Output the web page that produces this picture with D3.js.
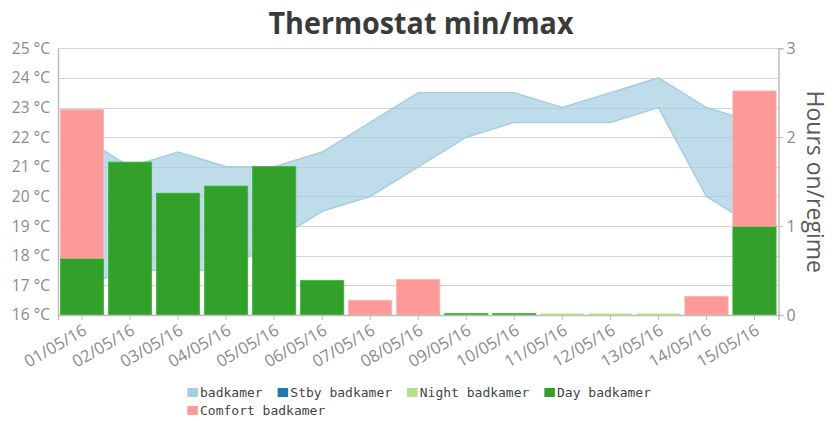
<!DOCTYPE html>
<html>
<head>
<meta charset="utf-8">
<script src="https://cdn.jsdelivr.net/npm/d3@7"></script>
<style>
  html, body { margin: 0; padding: 0; background: #fff; }
  svg { display: block; }
</style>
</head>
<body>
<svg id="chart" width="835" height="421"></svg>
<script>
// ---- data ----
const categories = ["01/05/16","02/05/16","03/05/16","04/05/16","05/05/16","06/05/16","07/05/16","08/05/16","09/05/16","10/05/16","11/05/16","12/05/16","13/05/16","14/05/16","15/05/16"];
const tempMin = [17.0,17.5,17.5,17.5,18.5,19.5,20.0,21.0,22.0,22.5,22.5,22.5,23.0,20.0,19.0];
const tempMax = [22.0,21.0,21.5,21.0,21.0,21.5,22.5,23.5,23.5,23.5,23.0,23.5,24.0,23.0,22.5];
const stbyHours    = [0,0,0,0,0,0,0,0,0,0,0,0,0,0,0];
const nightHours   = [0,0,0,0,0,0,0,0,0,0,0.017,0.017,0.017,0,0];
const dayHours     = [0.64,1.72,1.37,1.45,1.67,0.39,0,0,0.017,0.017,0,0,0,0,1.0];
const comfortHours = [1.67,0,0,0,0,0,0.165,0.40,0,0,0,0,0,0.21,1.52];
const tempTicks = [16,17,18,19,20,21,22,23,24,25];
const hourTicks = [0,1,2,3];
const seriesNames = ["badkamer","Stby badkamer","Night badkamer","Day badkamer","Comfort badkamer"];
const seriesColors = ["#a6cee3","#1f78b4","#b2df8a","#33a02c","#fb9a99"];
const titleText = "Thermostat min/max";
const rightAxisTitle = "Hours on/regime";

// ---- layout ----
const svg = d3.select("#chart");
const L = 58, R = 778.5, T = 48.3, B = 315;
const labelFont = "'Open Sans', sans-serif";

const x = d3.scaleBand().domain(categories).range([L, R]).paddingInner(0.1).paddingOuter(0.05);
const yT = d3.scaleLinear().domain([16, 25]).range([B, T]);
const yH = d3.scaleLinear().domain([0, 3]).range([B, T]);
const cx = c => x(c) + x.bandwidth() / 2;

// title
svg.append("text")
  .attr("x", 421).attr("y", 33.5)
  .attr("text-anchor", "middle")
  .attr("font-family", labelFont).attr("font-weight", 700)
  .attr("font-size", 30).attr("fill", "#3a3a3a")
  .attr("textLength", 305).attr("lengthAdjust", "spacingAndGlyphs")
  .text(titleText);

// gridlines
svg.append("g").selectAll("line").data(tempTicks).join("line")
  .attr("x1", L).attr("x2", R)
  .attr("y1", d => Math.round(yT(d)) + 0.5).attr("y2", d => Math.round(yT(d)) + 0.5)
  .attr("stroke", "#d4d4d4").attr("stroke-width", 1);

// area
const idx = d3.range(categories.length);
const area = d3.area()
  .x(i => cx(categories[i]))
  .y0(i => yT(tempMin[i]))
  .y1(i => yT(tempMax[i]));
svg.append("path").datum(idx)
  .attr("d", area)
  .attr("fill", seriesColors[0]).attr("fill-opacity", 0.72)
  .attr("stroke", seriesColors[0]).attr("stroke-width", 1.5);

// stacked bars
const stackData = idx.map(i => ({
  cat: categories[i], stby: stbyHours[i], night: nightHours[i], day: dayHours[i], comfort: comfortHours[i]
}));
const keys = ["stby","night","day","comfort"];
const stacked = d3.stack().keys(keys)(stackData);
svg.append("g").selectAll("g").data(stacked).join("g")
  .attr("fill", (d, k) => seriesColors[k + 1])
  .attr("stroke", (d, k) => d3.color(seriesColors[k + 1]).brighter(0.4))
  .attr("stroke-width", 0.8)
  .selectAll("rect").data(d => d.filter(p => p[1] - p[0] > 0)).join("rect")
  .attr("x", d => x(d.data.cat))
  .attr("width", x.bandwidth())
  .attr("y", d => yH(d[1]))
  .attr("height", d => yH(d[0]) - yH(d[1]));

// axes
const axisColor = "#bdbdbd";
const textColor = "#8a8a8a";

const leftAxis = svg.append("g").attr("transform", `translate(${L},0)`)
  .call(d3.axisLeft(yT).tickValues(tempTicks).tickSize(0).tickPadding(8).tickFormat(d => d + " °C"));
leftAxis.select(".domain").attr("stroke", axisColor).attr("stroke-width", 1.5);
leftAxis.selectAll("text").attr("font-family", labelFont).attr("font-size", 15.5).attr("fill", textColor);

const rightAxis = svg.append("g").attr("transform", `translate(${R},0)`)
  .call(d3.axisRight(yH).tickValues(hourTicks).tickSize(5).tickPadding(3).tickFormat(d3.format("d")));
rightAxis.select(".domain").attr("stroke", axisColor).attr("stroke-width", 1.5);
rightAxis.selectAll("line").attr("stroke", axisColor);
rightAxis.selectAll("text").attr("font-family", labelFont).attr("font-size", 16).attr("fill", textColor);

const bottomAxis = svg.append("g").attr("transform", `translate(0,${B})`)
  .call(d3.axisBottom(x).tickSize(5).tickPadding(2));
bottomAxis.select(".domain").attr("stroke", axisColor).attr("stroke-width", 1.5);
bottomAxis.selectAll("line").attr("stroke", axisColor);
bottomAxis.selectAll("text")
  .attr("font-family", labelFont).attr("font-size", 16.5).attr("fill", textColor)
  .attr("text-anchor", "end")
  .attr("x", 0).attr("y", 0).attr("dy", 0)
  .attr("transform", "translate(6,18.5) rotate(-30)");

// right axis title
svg.append("text")
  .attr("transform", `translate(806.5,181.7) rotate(90)`)
  .attr("text-anchor", "middle")
  .attr("font-family", labelFont).attr("font-size", 23).attr("fill", "#5a5a5a")
  .text(rightAxisTitle);

// legend
const legend = svg.append("g");
const lfont = "'DejaVu Sans Mono', monospace";
const rows = [[0,1,2,3],[4]];
const legendX0 = 187.3, rowY = [392, 410], gap = 15;
rows.forEach((row, r) => {
  let xx = legendX0;
  row.forEach(k => {
    legend.append("rect").attr("x", xx).attr("y", rowY[r] - 4).attr("width", 10.5).attr("height", 9)
      .attr("fill", seriesColors[k]);
    const t = legend.append("text").attr("x", xx + 12.7).attr("y", rowY[r] + 5)
      .attr("font-family", lfont).attr("font-size", 13).attr("fill", "#444")
      .text(seriesNames[k]);
    xx += 12.7 + t.node().getComputedTextLength() + gap;
  });
});
</script>
</body>
</html>
